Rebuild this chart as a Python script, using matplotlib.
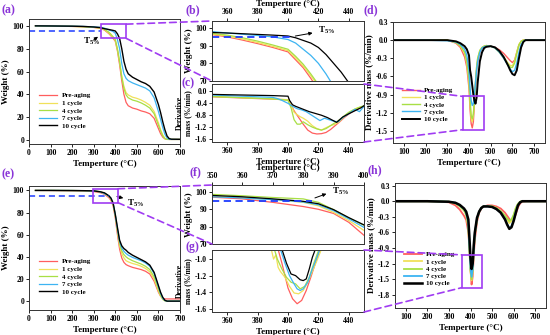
import numpy as np
import matplotlib
matplotlib.use("Agg")
import matplotlib.pyplot as plt
from matplotlib.patches import Rectangle, ConnectionPatch

plt.rcParams["font.family"] = ["Liberation Serif", "DejaVu Serif"]
plt.rcParams["font.weight"] = "bold"
plt.rcParams["axes.labelweight"] = "bold"
plt.rcParams["mathtext.fontset"] = "custom"
plt.rcParams["mathtext.rm"] = "Liberation Serif:bold"
plt.rcParams["mathtext.it"] = "Liberation Serif:bold"

labels = ["Pre-aging", "1 cycle", "4 cycle", "7 cycle", "10 cycle"]
colors = ["#FF5E5E", "#F0E15A", "#A8DF45", "#3DB4F2", "#000000"]
purple = "#A03CF2"
label_purple = "#8A35D8"
xlab = "Temperture (°C)"

# ---- (a) TGA, first set
T_a = [30, 100, 200, 250, 300, 330, 350, 370, 380, 390, 400, 410, 420, 430, 440, 450,
       460, 480, 500, 520, 540, 560, 580, 600, 610, 620, 630, 640, 650, 660, 700]
red_a = [100, 99.8, 99.5, 99.2, 98.6, 97.8, 96.3, 93.2, 91.2, 89.0, 86.5, 78, 66, 52, 40, 33,
         30, 28, 27, 25.5, 24.5, 23, 19, 10, 5.5, 2.5, 1, 0.6, 0.5, 0.5, 0.5]
yellow_a = [100, 99.8, 99.5, 99.2, 98.7, 98.0, 96.6, 93.8, 91.8, 89.6, 87.2, 79, 68, 56, 47, 41.5,
            39.5, 37.5, 36.5, 35, 33, 30.5, 25, 15, 9, 4.5, 1.5, 0.6, 0.5, 0.5, 0.5]
green_a = [100, 99.8, 99.6, 99.3, 98.8, 98.2, 97.0, 94.5, 92.6, 90.4, 88.0, 80, 69, 55, 45, 39.5,
           37, 35, 34, 32.5, 30.5, 28, 23, 13, 8, 3.5, 1.2, 0.5, 0.5, 0.5, 0.5]
blue_a = [100, 99.9, 99.7, 99.5, 99.1, 98.7, 98.0, 96.5, 95.8, 95.0, 93.5, 88, 80, 67, 58, 54,
          52, 50, 48.5, 47, 45.5, 43, 37, 25, 18, 11, 5, 1.8, 0.7, 0.5, 0.5]
black_a = [100, 99.9, 99.7, 99.5, 99.0, 98.5, 97.5, 96.8, 96.4, 96.0, 95.5, 93, 89, 80, 69, 62,
           58, 55, 53, 51, 49.5, 47, 42, 31, 24, 16, 9, 3.5, 1.2, 0.7, 0.6]

# ---- (b) zoom of TGA
T_b = [350, 360, 370, 380, 390, 400, 405, 410, 415, 420, 425, 430, 435, 440, 450]
red_b = [96.3, 95.0, 93.2, 91.2, 89.0, 86.5, 82, 77.5, 71.5, 65, 60, 55, 50, 45, 40]
yellow_b = [96.6, 95.5, 93.8, 91.8, 89.6, 87.2, 83, 78.5, 73, 67, 62, 57, 52, 47, 42]
green_b = [97.0, 96.0, 94.5, 92.6, 90.4, 88.0, 84, 79.5, 74, 68, 63, 58, 53, 48, 43]
blue_b = [98.0, 97.2, 96.5, 95.8, 95.0, 93.5, 91.5, 88, 84.5, 80, 74, 67, 62, 57, 52]
black_b = [97.5, 97.2, 96.8, 96.4, 96.0, 95.5, 94.5, 93, 91.5, 89, 85, 80, 75, 69, 62]

# ---- (c) zoom of DTG
T_c = [350, 360, 370, 380, 390, 400, 402, 404, 406, 408, 410, 413, 416, 419, 422, 425,
       428, 431, 434, 437, 440, 443, 446, 450]
red_c = [-0.18, -0.2, -0.22, -0.24, -0.26, -0.28, -0.45, -0.65, -0.8, -0.95, -1.1, -1.3,
         -1.4, -1.43, -1.42, -1.38, -1.28, -1.15, -1.02, -0.88, -0.76, -0.66, -0.58, -0.5]
yellow_c = [-0.17, -0.19, -0.21, -0.23, -0.25, -0.28, -0.45, -0.7, -0.78, -0.85, -0.9, -1.0,
            -1.15, -1.25, -1.3, -1.22, -1.15, -1.1, -1.0, -0.85, -0.72, -0.62, -0.55, -0.5]
green_c = [-0.17, -0.19, -0.21, -0.23, -0.25, -0.3, -0.55, -0.95, -1.1, -1.1, -1.02, -1.12,
           -1.2, -1.26, -1.3, -1.25, -1.15, -1.05, -0.95, -0.82, -0.7, -0.62, -0.55, -0.48]
T_c_blue = [350, 360, 370, 380, 390, 393, 396, 400, 403, 406, 409, 412, 415, 418, 421, 424,
            427, 430, 433, 436, 440, 444, 447, 450]
blue_c = [-0.12, -0.14, -0.16, -0.18, -0.2, -0.24, -0.3, -0.4, -0.5, -0.58, -0.62, -0.68,
          -0.78, -0.88, -0.98, -0.9, -0.95, -1.0, -1.02, -0.88, -0.75, -0.6, -0.68, -0.5]
T_c_black = [350, 360, 370, 380, 390, 400, 401, 403, 405, 408, 411, 414, 418, 422, 426, 429,
             432, 434, 436, 440, 444, 448, 450]
black_c = [-0.1, -0.11, -0.12, -0.13, -0.14, -0.16, -0.3, -0.45, -0.5, -0.56, -0.62, -0.68,
           -0.74, -0.8, -0.88, -0.96, -1.04, -0.95, -0.86, -0.75, -0.65, -0.55, -0.48]

# ---- (d) DTG, first set
T_d = [50, 100, 200, 300, 340, 360, 380, 390, 400, 405, 410, 415, 420, 425, 430, 435, 440,
       450, 460, 470, 480, 500, 520, 540, 560, 580, 590, 600, 610, 620, 630, 640, 650, 660, 700, 750]
red_d = [0, 0, 0, 0, -0.05, -0.12, -0.28, -0.45, -0.8, -1.15, -1.38, -1.45, -1.35, -1.05, -0.75,
         -0.5, -0.35, -0.2, -0.13, -0.1, -0.09, -0.1, -0.12, -0.16, -0.22, -0.3, -0.34, -0.37,
         -0.33, -0.2, -0.08, -0.02, 0, 0, 0, 0]
yellow_d = [0, 0, 0, 0, -0.04, -0.1, -0.22, -0.38, -0.7, -1.05, -1.3, -1.35, -1.25, -1.0, -0.7,
            -0.45, -0.3, -0.17, -0.12, -0.1, -0.09, -0.1, -0.13, -0.2, -0.28, -0.38, -0.42,
            -0.42, -0.35, -0.2, -0.07, -0.02, 0, 0, 0, 0]
green_d = [0, 0, 0, 0, -0.04, -0.09, -0.2, -0.35, -0.65, -1.0, -1.25, -1.3, -1.22, -0.98, -0.7,
           -0.45, -0.3, -0.17, -0.12, -0.1, -0.09, -0.1, -0.13, -0.2, -0.3, -0.4, -0.45,
           -0.45, -0.38, -0.22, -0.08, -0.02, 0, 0, 0, 0]
blue_d = [0, 0, 0, -0.01, -0.03, -0.07, -0.15, -0.25, -0.5, -0.8, -1.0, -1.08, -1.05, -0.9, -0.7,
          -0.5, -0.35, -0.2, -0.13, -0.11, -0.1, -0.1, -0.13, -0.2, -0.3, -0.42, -0.48, -0.52,
          -0.5, -0.38, -0.2, -0.07, -0.02, 0, 0, 0]
black_d = [0, 0, 0, 0, -0.02, -0.05, -0.1, -0.15, -0.25, -0.5, -0.6, -0.75, -0.9, -1.0, -1.05,
           -0.95, -0.7, -0.35, -0.2, -0.13, -0.11, -0.1, -0.12, -0.18, -0.28, -0.42, -0.5,
           -0.56, -0.58, -0.5, -0.3, -0.12, -0.03, 0, 0, 0]

# ---- (e) TGA, second set
T_e = T_a
red_e = [100, 99.9, 99.7, 99.5, 99.0, 98.0, 96.5, 93.5, 91, 86, 75, 60, 47, 39, 35, 33,
         32, 30.5, 29.5, 28.5, 27, 24.5, 18, 8, 4.5, 2.5, 2, 2, 2, 2, 2]
yellow_e = [100, 100, 99.9, 99.8, 99.5, 98.6, 97, 94.5, 92, 87, 77, 63, 50, 43, 39, 36.5,
            35.5, 34, 33, 31.5, 29.5, 26.5, 20, 9, 4.5, 1.5, 0.3, 0, 0, 0, 0]
green_e = [100, 100, 99.9, 99.8, 99.6, 98.9, 97.5, 95, 92.8, 88, 77.5, 64, 52, 45.5, 42, 40,
           38.5, 36.5, 35, 33.5, 31.5, 28.5, 22, 11, 5.5, 2, 0.4, 0, 0, 0, 0]
blue_e = [100, 100, 99.9, 99.8, 99.5, 98.7, 97.2, 95, 93, 88.5, 78, 65.5, 54, 48, 45, 43,
          41.5, 39.5, 38, 36.5, 34.5, 31.5, 25, 13, 7, 2.5, 0.5, 0, 0, 0, 0]
black_e = [100, 100, 99.9, 99.8, 99.6, 98.8, 97.8, 95.2, 93, 88.5, 78.5, 66.5, 55, 50, 47.5, 46,
           44, 41.5, 39.5, 37.5, 35.5, 32.5, 26, 14, 8, 3.5, 0.8, 0, 0, 0, 0]

# ---- (f) zoom of TGA, second set
T_f = [350, 355, 360, 365, 370, 375, 380, 385, 390, 395, 400]
red_f = [97.0, 96.5, 96.0, 95.0, 94.0, 92.8, 91.6, 90.0, 87.6, 82.5, 75.0]
yellow_f = [97.6, 97.2, 96.8, 96.2, 95.6, 94.8, 94.0, 92.0, 88.2, 83.5, 77.8]
green_f = [98.6, 98.2, 97.8, 97.3, 96.8, 96.4, 96.0, 94.0, 89.8, 85.0, 80.8]
blue_f = [97.2, 96.9, 96.5, 96.0, 95.6, 95.0, 94.2, 92.6, 89.2, 84.5, 79.6]
black_f = [98.0, 97.6, 97.2, 96.6, 96.0, 95.3, 94.6, 93.2, 89.8, 85.2, 81.0]

# ---- (g) zoom of DTG, second set
T_g_red = [393, 396, 400, 403, 406, 409, 412, 415, 418, 421]
red_g = [-0.85, -1.05, -1.35, -1.48, -1.54, -1.5, -1.38, -1.22, -1.05, -0.88]
T_g_yellow = [389, 390.5, 392, 393.5, 395, 398, 401, 404, 407, 410, 413, 416, 419, 422]
yellow_g = [-0.88, -1.0, -0.95, -1.1, -1.15, -1.22, -1.33, -1.41, -1.42, -1.38, -1.28, -1.15,
            -1.02, -0.88]
T_g_green = [391, 393, 396, 399, 402, 405, 408, 411, 414, 417, 420]
green_g = [-0.88, -1.0, -1.12, -1.22, -1.28, -1.3, -1.36, -1.33, -1.22, -1.05, -0.9]
T_g_blue = [395, 398, 401, 404, 406, 408, 410, 413, 416, 419, 421]
blue_g = [-0.88, -1.05, -1.2, -1.3, -1.36, -1.38, -1.36, -1.28, -1.12, -0.98, -0.88]
T_g_black = [396, 399, 402, 405, 408, 410, 412, 414, 416, 418]
black_g = [-0.88, -1.05, -1.18, -1.2, -1.25, -1.26, -1.24, -1.12, -0.98, -0.88]

# ---- (h) DTG, second set
T_h = [50, 100, 200, 300, 330, 350, 370, 380, 390, 395, 400, 405, 410, 415, 420, 430, 440,
       450, 460, 480, 500, 520, 540, 560, 570, 580, 590, 600, 610, 620, 630, 640, 660, 700, 750]
red_h = [0, 0, 0, -0.02, -0.08, -0.16, -0.28, -0.36, -0.6, -0.9, -1.3, -1.6, -1.45, -1.05,
         -0.75, -0.4, -0.22, -0.14, -0.1, -0.08, -0.08, -0.1, -0.14, -0.22, -0.28, -0.34,
         -0.38, -0.35, -0.25, -0.12, -0.04, -0.01, 0, 0, 0]
yellow_h = [0, 0, 0, -0.01, -0.04, -0.1, -0.18, -0.26, -0.5, -0.95, -1.35, -1.52, -1.35, -0.95,
            -0.65, -0.35, -0.2, -0.13, -0.1, -0.09, -0.1, -0.13, -0.2, -0.3, -0.36, -0.42,
            -0.38, -0.28, -0.14, -0.05, -0.01, 0, 0, 0, 0]
green_h = [0, 0, 0, -0.01, -0.04, -0.09, -0.17, -0.25, -0.48, -0.92, -1.32, -1.5, -1.33, -0.93,
           -0.63, -0.34, -0.2, -0.13, -0.1, -0.09, -0.1, -0.13, -0.19, -0.28, -0.33, -0.38,
           -0.35, -0.26, -0.13, -0.05, -0.01, 0, 0, 0, 0]
blue_h = [0, 0, 0, -0.01, -0.03, -0.08, -0.15, -0.22, -0.42, -0.85, -1.28, -1.45, -1.3, -0.92,
          -0.62, -0.33, -0.2, -0.13, -0.1, -0.1, -0.11, -0.15, -0.22, -0.34, -0.44, -0.52,
          -0.48, -0.36, -0.2, -0.07, -0.02, 0, 0, 0, 0]
black_h = [0, 0, 0, -0.01, -0.03, -0.07, -0.14, -0.2, -0.35, -0.7, -1.1, -1.3, -1.2, -0.85,
           -0.6, -0.32, -0.2, -0.13, -0.1, -0.1, -0.11, -0.15, -0.22, -0.35, -0.45, -0.53,
           -0.5, -0.38, -0.22, -0.08, -0.02, 0, 0, 0, 0]


def style(ax, top=False):
    ax.tick_params(labelsize=5.5, length=2, width=0.6, pad=1.5)
    for s in ax.spines.values():
        s.set_linewidth(0.7)
        s.set_color("#333333")
    if top:
        ax.xaxis.tick_top()
        ax.xaxis.set_label_position("top")


fig = plt.figure(figsize=(5.5, 3.35), dpi=100)
W, H = 550.0, 335.0


def add_ax(left, top, right, bottom):
    return fig.add_axes([left / W, 1 - bottom / H, (right - left) / W, (bottom - top) / H])


ax_a = add_ax(29, 19, 180, 144)
ax_b = add_ax(212, 21, 364, 81)
ax_c = add_ax(212, 84, 364, 142)
ax_d = add_ax(393, 22, 545, 143)
ax_e = add_ax(29, 186, 180, 310)
ax_f = add_ax(212, 185, 364, 244)
ax_g = add_ax(212, 250, 364, 312)
ax_h = add_ax(395, 183, 546, 308)

# main TGA panels
for ax, T, series, ylim in [
    (ax_a, T_a, [red_a, yellow_a, green_a, blue_a, black_a], (-3.5, 106)),
    (ax_e, T_e, [red_e, yellow_e, green_e, blue_e, black_e], (-8, 104)),
]:
    for y, c, lab in zip(series, colors, labels):
        ax.plot(T, y, color=c, lw=1.0 if c == "#000000" else 0.9, label=lab)
    ax.set_xlim(0, 700)
    ax.set_ylim(*ylim)
    ax.set_xticks(range(0, 701, 100))
    ax.set_yticks(range(0, 101, 20))
    ax.set_xlabel(xlab, fontsize=6.5, labelpad=2)
    ax.set_ylabel("Weight (%)", fontsize=6.5, labelpad=2)
    style(ax)
    ax.legend(loc="lower left", bbox_to_anchor=(0.05, 0.1), frameon=False, fontsize=5,
              handlelength=2.6, labelspacing=0.25, borderaxespad=0, handletextpad=0.6)

ax_a.plot([0, 335], [95.5, 95.5], color="#1E3CFF", lw=1.1, ls=(0, (4, 2.5)))
ax_a.add_patch(Rectangle((335, 89), 116, 12.5, fill=False, ec=purple, lw=1.2, zorder=5))
ax_a.annotate("T$_{5\\%}$", xy=(330, 92), xytext=(250, 84), fontsize=6.5,
              arrowprops=dict(arrowstyle="-|>", color="black", lw=0.7, mutation_scale=5))

ax_e.plot([0, 372], [95, 95], color="#1E3CFF", lw=1.1, ls=(0, (4, 2.5)))
ax_e.add_patch(Rectangle((295, 89), 117, 12.5, fill=False, ec=purple, lw=1.2, zorder=5))
ax_e.annotate("", xy=(450, 92.5), xytext=(395, 95),
              arrowprops=dict(arrowstyle="-|>", color="black", lw=0.7, mutation_scale=5))
ax_e.text(455, 88, "T$_{5\\%}$", fontsize=6.5, va="center")

# zoomed TGA panels
for ax, Ts, series, xlim, xticks in [
    (ax_b, [T_b] * 5, [red_b, yellow_b, green_b, blue_b, black_b], (350, 450), range(360, 441, 20)),
    (ax_f, [T_f] * 5, [red_f, yellow_f, green_f, blue_f, black_f], (350, 400), range(350, 401, 10)),
]:
    for T, y, c in zip(Ts, series, colors):
        ax.plot(T, y, color=c, lw=0.9)
    ax.set_xlim(*xlim)
    ax.set_ylim(70, 104)
    ax.set_xticks(list(xticks))
    ax.set_yticks([70, 80, 90, 100])
    ax.set_xlabel(xlab, fontsize=6.5, labelpad=1.5)
    ax.set_ylabel("Weight (%)", fontsize=6.5, labelpad=2)
    style(ax, top=True)

ax_b.plot([350, 402], [95, 95], color="#1E3CFF", lw=1.3, ls=(0, (4, 2.5)))
ax_b.annotate("", xy=(418, 97.5), xytext=(403, 95.2),
              arrowprops=dict(arrowstyle="-|>", color="black", lw=0.7, mutation_scale=5))
ax_b.text(420, 98.5, "T$_{5\\%}$", fontsize=6.5, va="center")

ax_f.plot([350, 383], [95, 95], color="#1E3CFF", lw=1.3, ls=(0, (4, 2.5)))
ax_f.annotate("", xy=(388.5, 99.5), xytext=(383, 96),
              arrowprops=dict(arrowstyle="-|>", color="black", lw=0.7, mutation_scale=5))
ax_f.text(389.5, 100.5, "T$_{5\\%}$", fontsize=6.5, va="center")

# zoomed DTG panels
for ax, Ts, series, ylim, yticks in [
    (ax_c, [T_c, T_c, T_c, T_c_blue, T_c_black], [red_c, yellow_c, green_c, blue_c, black_c],
     (-1.7, 0.25), [0.0, -0.4, -0.8, -1.2, -1.6]),
    (ax_g, [T_g_red, T_g_yellow, T_g_green, T_g_blue, T_g_black],
     [red_g, yellow_g, green_g, blue_g, black_g], (-1.64, -0.89), [-1.0, -1.2, -1.4, -1.6]),
]:
    for T, y, c in zip(Ts, series, colors):
        ax.plot(T, y, color=c, lw=0.9)
    ax.set_xlim(350, 450)
    ax.set_ylim(*ylim)
    ax.set_xticks(range(360, 441, 20))
    ax.set_yticks(yticks)
    ax.set_yticklabels([f"{v:.1f}" for v in yticks])
    ax.set_xlabel(xlab, fontsize=6.5, labelpad=2)
    ax.set_ylabel("Derivative\nmass (%/min)", fontsize=5.5, labelpad=2, linespacing=1.0)
    style(ax)

# main DTG panels
for ax, T, series, ylim, yticks, lw in [
    (ax_d, T_d, [red_d, yellow_d, green_d, blue_d, black_d], (-1.7, 0.3),
     [0.3, 0.0, -0.3, -0.6, -0.9, -1.2, -1.5], 1.0),
    (ax_h, T_h, [red_h, yellow_h, green_h, blue_h, black_h], (-2.05, 0.35),
     [0.3, 0.0, -0.3, -0.6, -0.9, -1.2, -1.5, -1.8], 1.3),
]:
    for y, c, lab in zip(series, colors, labels):
        ax.plot(T, y, color=c, lw=lw * (1.4 if c == "#000000" else 1.0), label=lab)
    ax.set_xlim(50, 750)
    ax.set_ylim(*ylim)
    ax.set_xticks(range(100, 701, 100))
    ax.set_yticks(yticks)
    ax.set_yticklabels([f"{v:.1f}" for v in yticks])
    ax.set_xlabel(xlab, fontsize=6.5, labelpad=2)
    ax.set_ylabel("Derivative mass (%/min)", fontsize=6.5, labelpad=2)
    style(ax)
    ax.legend(loc="lower left", bbox_to_anchor=(0.04, 0.15), frameon=False, fontsize=5,
              handlelength=2.6, labelspacing=0.2, borderaxespad=0, handletextpad=0.6)

ax_d.add_patch(Rectangle((372, -1.48), 95, 0.55, fill=False, ec=purple, lw=1.2, zorder=5))
ax_h.add_patch(Rectangle((359, -1.66), 93, 0.63, fill=False, ec=purple, lw=1.2, zorder=5))

# dashed connectors between panels
dash = dict(color=purple, lw=1.2, ls=(0, (4, 2.5)), zorder=10)
links = [
    (ax_a, (451, 101.5), "data", ax_b, (0, 1), "axes fraction"),
    (ax_a, (451, 89), "data", ax_b, (0, 0), "axes fraction"),
    (ax_e, (412, 101.5), "data", ax_f, (0, 1), "axes fraction"),
    (ax_e, (412, 89), "data", ax_f, (0, 0), "axes fraction"),
    (ax_c, (1, 1), "axes fraction", ax_d, (372, -0.93), "data"),
    (ax_c, (1, 0), "axes fraction", ax_d, (372, -1.48), "data"),
    (ax_g, (1, 1), "axes fraction", ax_h, (359, -1.03), "data"),
    (ax_g, (1, 0), "axes fraction", ax_h, (359, -1.66), "data"),
]
for axA, pA, cA, axB, pB, cB in links:
    con = ConnectionPatch(xyA=pA, coordsA=cA, axesA=axA, xyB=pB, coordsB=cB, axesB=axB, **dash)
    fig.add_artist(con)

# panel letters
for txt, x, y in [("(a)", 2, 10), ("(b)", 186, 10), ("(c)", 182, 83), ("(d)", 364, 10),
                  ("(e)", 2, 174), ("(f)", 189, 172), ("(g)", 186, 247), ("(h)", 368, 170)]:
    fig.text(x / W, 1 - y / H, txt, color=label_purple, fontsize=8.5, fontweight="bold",
             va="center", ha="left")

fig.savefig("out.png", dpi=100)
